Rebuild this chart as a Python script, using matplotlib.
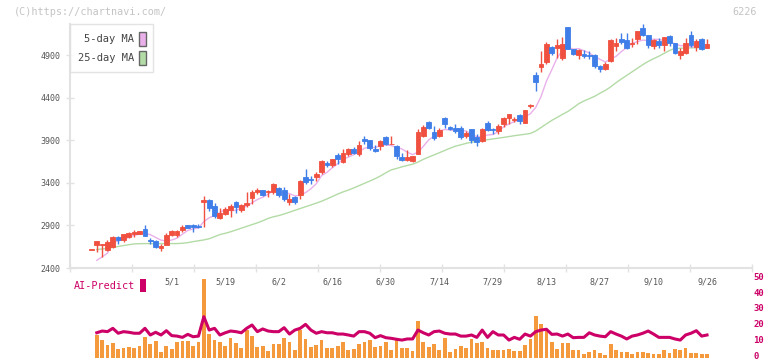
import numpy as np
import pandas as pd
import matplotlib
matplotlib.use("Agg")
import matplotlib.pyplot as plt
from matplotlib.patches import Patch
from matplotlib.transforms import ScaledTranslation

plt.rcParams['font.family'] = ['DejaVu Sans Mono', 'DejaVu Sans']

# daily candles, 4/9 .. 9/26 (trading days)
opens = [2610, 2667, 2670, 2608, 2647, 2764, 2725, 2764, 2804, 2804,
         2855, 2728, 2714, 2635, 2675, 2792, 2784, 2843, 2902, 2902,
         2892, 3175, 3198, 3125, 2988, 3035, 3078, 3176, 3078, 3140,
         3223, 3298, 3313, 3293, 3293, 3340, 3321, 3176, 3231, 3262,
         3466, 3450, 3470, 3528, 3640, 3615, 3724, 3646, 3736, 3795,
         3744, 3920, 3901, 3803, 3834, 3940, 3855, 3834, 3704, 3674,
         3657, 3744, 3951, 4116, 3999, 3951, 4163, 4057, 4045, 4045,
         3951, 4030, 3940, 3890, 4104, 4038, 4006, 4089, 4159, 4143,
         4194, 4104, 4310, 4665, 4759, 4821, 4997, 4986, 4872, 5233,
         4978, 4900, 4911, 4903, 4908, 4774, 4735, 4833, 5009, 5088,
         5076, 5033, 5096, 5225, 5143, 5005, 5064, 5017, 5123, 5045,
         4900, 4931, 5135, 4997, 5088, 4986]
highs = [2620, 2714, 2685, 2725, 2776, 2776, 2796, 2823, 2843, 2835,
         2902, 2752, 2725, 2678, 2815, 2851, 2851, 2902, 2910, 2922,
         2922, 3243, 3215, 3164, 3110, 3117, 3149, 3187, 3157, 3293,
         3313, 3345, 3320, 3313, 3399, 3352, 3352, 3266, 3243, 3431,
         3560, 3481, 3525, 3674, 3657, 3685, 3756, 3795, 3810, 3822,
         3889, 3951, 3901, 3850, 3909, 3951, 3951, 3842, 3756, 3783,
         3716, 4038, 4077, 4132, 4065, 4046, 4175, 4070, 4089, 4065,
         4006, 4030, 3979, 4045, 4128, 4050, 4089, 4175, 4214, 4175,
         4206, 4261, 4332, 4703, 4947, 5056, 5005, 5096, 5115, 5233,
         4978, 4978, 4958, 4947, 4920, 4782, 4821, 5096, 5103, 5162,
         5162, 5103, 5182, 5264, 5143, 5088, 5107, 5111, 5135, 5045,
         4986, 5103, 5182, 5088, 5103, 5088]
lows = [2608, 2588, 2530, 2596, 2640, 2687, 2705, 2752, 2764, 2800,
        2776, 2687, 2640, 2600, 2675, 2772, 2760, 2823, 2870, 2823,
        2875, 2882, 3066, 2992, 2976, 3020, 2999, 3051, 3058, 3117,
        3157, 3274, 3250, 3234, 3274, 3234, 3187, 3145, 3149, 3215,
        3392, 3392, 3419, 3501, 3587, 3587, 3627, 3634, 3716, 3736,
        3712, 3862, 3791, 3763, 3783, 3842, 3855, 3685, 3662, 3662,
        3646, 3744, 3940, 4038, 3909, 3940, 4046, 4020, 3987, 3920,
        3932, 3874, 3834, 3880, 4006, 3979, 3979, 4057, 4089, 4116,
        4097, 4104, 4285, 4480, 4707, 4794, 4900, 4872, 4841, 4978,
        4900, 4853, 4872, 4857, 4750, 4704, 4723, 4821, 4950, 5037,
        4978, 4997, 5029, 5123, 4986, 4978, 4990, 4950, 5009, 4920,
        4853, 4919, 4997, 4950, 4958, 4986]
closes = [2618, 2714, 2680, 2705, 2764, 2729, 2796, 2811, 2823, 2831,
          2776, 2720, 2647, 2663, 2784, 2831, 2831, 2882, 2875, 2882,
          2885, 3204, 3105, 3011, 3043, 3090, 3125, 3117, 3137, 3164,
          3293, 3313, 3254, 3309, 3384, 3254, 3215, 3211, 3172, 3423,
          3411, 3440, 3505, 3654, 3615, 3677, 3677, 3756, 3795, 3756,
          3842, 3893, 3810, 3775, 3897, 3853, 3860, 3712, 3674, 3704,
          3716, 3999, 4057, 4050, 3928, 4018, 4089, 4030, 4006, 3940,
          3986, 3901, 3881, 4030, 4018, 4018, 4065, 4163, 4206, 4150,
          4128, 4261, 4318, 4583, 4794, 5029, 4927, 5017, 5029, 4978,
          4911, 4960, 4892, 4896, 4774, 4743, 4802, 5076, 5045, 5052,
          4986, 5040, 5182, 5135, 5017, 5076, 5025, 5111, 5045, 4931,
          4950, 5045, 5025, 5064, 4978, 5029]

# 5-day MA needs earlier closes for the first days
ma5_head = [np.nan, 2490, 2530, 2575]

ma25 = [np.nan,
        2617, 2624, 2632, 2643, 2653, 2664, 2674, 2683, 2686, 2687,
        2687, 2687, 2687, 2687, 2687, 2687, 2691, 2698, 2710, 2720,
        2730, 2744, 2768, 2793, 2808, 2826, 2847, 2868, 2889, 2910,
        2931, 2955, 2983, 3002, 3016, 3035, 3056, 3078, 3099, 3120,
        3141, 3162, 3185, 3212, 3240, 3269, 3294, 3316, 3341, 3368,
        3395, 3422, 3450, 3482, 3519, 3553, 3570, 3589, 3605, 3620,
        3645, 3677, 3704, 3729, 3755, 3782, 3808, 3832, 3848, 3865,
        3879, 3889, 3898, 3908, 3917, 3926, 3935, 3945, 3955, 3964,
        3972, 3982, 4010, 4052, 4094, 4135, 4170, 4206, 4240, 4283,
        4330, 4363, 4390, 4418, 4454, 4488, 4529, 4578, 4622, 4664,
        4706, 4748, 4790, 4828, 4860, 4889, 4923, 4957, 4980, 4983,
        4985, 4987, 4989, 4990, 4991]

bar_vals = [np.nan,
            14.3, 11.1, 8.0, 9.3, 5.5, 6.1, 6.5, 6.1, 7.4, 13.0,
            8.6, 10.5, 3.6, 7.4, 5.5, 9.9, 10.5, 10.5, 7.4, 9.9,
            49.6, 14.9, 11.1, 9.9, 7.4, 12.4, 9.3, 6.1, 17.4, 13.7,
            6.7, 7.4, 4.2, 8.6, 8.6, 12.4, 9.9, 4.8, 17.4, 11.8,
            6.7, 8.0, 11.1, 6.1, 6.1, 7.4, 9.9, 4.8, 5.5, 8.6,
            9.9, 11.1, 6.7, 7.4, 10.2, 4.8, 11.1, 6.1, 6.1, 4.2,
            23.1, 9.9, 6.7, 8.6, 4.8, 12.4, 3.6, 5.5, 7.4, 6.1,
            11.8, 9.3, 9.9, 6.1, 4.8, 4.8, 4.8, 5.5, 4.2, 4.2,
            8.0, 11.8, 26.3, 21.2, 17.4, 9.9, 5.5, 9.3, 9.3, 4.8,
            4.8, 2.3, 3.6, 4.8, 3.0, 1.7, 8.6, 4.8, 3.6, 3.6,
            2.3, 3.6, 3.6, 3.0, 2.3, 2.3, 4.8, 3.0, 5.5, 4.8,
            6.1, 3.0, 3.0, 2.3, 2.3]

ai_predict = [np.nan,
              15.7, 16.8, 16.4, 18.5, 15.4, 16.4, 16.0, 15.4, 15.4, 18.5,
              14.3, 16.0, 14.3, 17.0, 13.9, 13.6, 12.8, 14.7, 13.2, 13.6,
              25.8, 17.4, 18.5, 14.3, 15.7, 16.8, 16.4, 15.7, 18.5, 20.6,
              16.4, 18.1, 16.8, 16.4, 16.4, 18.9, 14.9, 17.4, 18.5, 21.0,
              17.4, 15.4, 16.4, 15.7, 15.7, 14.9, 14.9, 14.3, 13.6, 16.4,
              16.4, 15.4, 12.6, 13.9, 12.6, 12.2, 11.6, 11.1, 11.8, 11.8,
              17.4, 15.7, 14.3, 16.4, 16.8, 15.4, 14.9, 14.9, 13.6, 13.6,
              14.3, 12.8, 17.4, 12.8, 16.4, 14.3, 14.3, 11.1, 12.8, 11.6,
              14.9, 13.6, 16.4, 17.4, 17.9, 14.7, 14.9, 13.6, 14.9, 12.6,
              12.8, 12.8, 15.7, 14.3, 13.6, 13.2, 16.4, 14.9, 13.6, 11.8,
              13.6, 14.3, 15.4, 16.8, 14.9, 12.8, 12.8, 12.8, 11.8, 11.1,
              14.3, 15.4, 17.0, 13.6, 14.3]

date_labels = ['5/1', '5/19', '6/2', '6/16', '6/30', '7/14',
               '7/29', '8/13', '8/27', '9/10', '9/26']

RED = '#f0503f'
BLUE = '#3f7ee8'
PINK = '#e9b0ea'
GREEN = '#b3dba6'
ORANGE = '#f4993c'
CRIMSON = '#cc0066'
AXCOL = '#e2e2e2'

opens = np.array(opens)
closes_arr = np.array(closes)
x = np.arange(len(closes))

ma5 = pd.Series(closes, dtype=float).rolling(5).mean()
ma5[:4] = ma5_head

fig = plt.figure(figsize=(7.72, 3.61), dpi=100)
ax = fig.add_axes([70/772, 1-268/361, 682/772, 244/361])
ax2 = fig.add_axes([70/772, 1-357.7/361, 682/772, 79.4/361])
ax2.set_facecolor('none')

xmin, xmax = -4.0, 123.4

# price panel
ax.plot(x, ma25, color=GREEN, lw=1, zorder=2)
ax.plot(x, ma5, color=PINK, lw=1, zorder=2)
col = np.where(closes_arr >= opens, RED, BLUE)
ax.vlines(x, lows, highs, color=col, lw=1, zorder=3)
ax.bar(x, closes_arr - opens, bottom=opens, width=0.9, color=col,
       edgecolor=col, linewidth=0.6, zorder=4)

ax.set_xlim(xmin, xmax)
ax.set_ylim(2400, 5268)
for s in ['top', 'right']:
    ax.spines[s].set_visible(False)
for s in ['left', 'bottom']:
    ax.spines[s].set_color(AXCOL)
    ax.spines[s].set_linewidth(1.5)

ax.set_yticks(range(2400, 5000, 500))
ax.tick_params(axis='y', direction='inout', length=6, width=1, color=AXCOL,
               labelsize=6, labelcolor='#555555', pad=4)
ax.set_xticks(x[15::10])
ax.set_xticklabels(date_labels)
ax.tick_params(axis='x', which='major', length=0, pad=7, labelsize=6,
               labelcolor='#555555')
ax.set_xticks(np.linspace(xmin, xmax, 12), minor=True)
ax.tick_params(axis='x', which='minor', direction='inout', length=6,
               width=1, color=AXCOL)

leg = ax.legend(handles=[Patch(facecolor=PINK, edgecolor='#666666'),
                         Patch(facecolor=GREEN, edgecolor='#666666')],
                labels=['5-day MA', '25-day MA'], loc='upper left',
                bbox_to_anchor=(0, 1), borderaxespad=0, markerfirst=False,
                fancybox=False, handlelength=0.6, handleheight=1.7,
                handletextpad=0.5, labelspacing=0.45, fontsize=7.5,
                labelcolor='#444444', borderpad=0.75)
leg.get_frame().set_edgecolor('#dddddd')
leg.get_frame().set_linewidth(1)

# AI-Predict panel
ax2.bar(x, bar_vals, width=0.7, color=ORANGE, zorder=2)
ax2.plot(x, ai_predict, color=CRIMSON, lw=2.2, zorder=3)
ax2.set_xlim(xmin, xmax)
ax2.set_ylim(0, 50)
for s in ax2.spines.values():
    s.set_visible(False)
ax2.set_xticks([])
ax2.yaxis.tick_right()
ax2.set_yticks(range(0, 51, 10))
ax2.tick_params(axis='y', length=0, pad=1, labelsize=6.5, labelcolor=CRIMSON)
lift = ScaledTranslation(0, 1.5/72, fig.dpi_scale_trans)
for t in ax2.get_yticklabels():
    t.set_fontweight('bold')
    t.set_transform(t.get_transform() + lift)
ax2.legend(handles=[Patch(facecolor=CRIMSON)], labels=['AI-Predict'],
           loc='upper left', bbox_to_anchor=(0, 1.04), borderaxespad=0,
           markerfirst=False, frameon=False, handlelength=0.6,
           handleheight=1.6, handletextpad=0.5, fontsize=7.3,
           labelcolor=CRIMSON)

fig.text(14/772, 1-12/361, '(C)https://chartnavi.com/', color='#c4c4c4',
         fontsize=7.3, va='center')
fig.text(757/772, 1-12/361, '6226', color='#c4c4c4', fontsize=7.3,
         va='center', ha='right')

fig.savefig('out.png', dpi=100)
